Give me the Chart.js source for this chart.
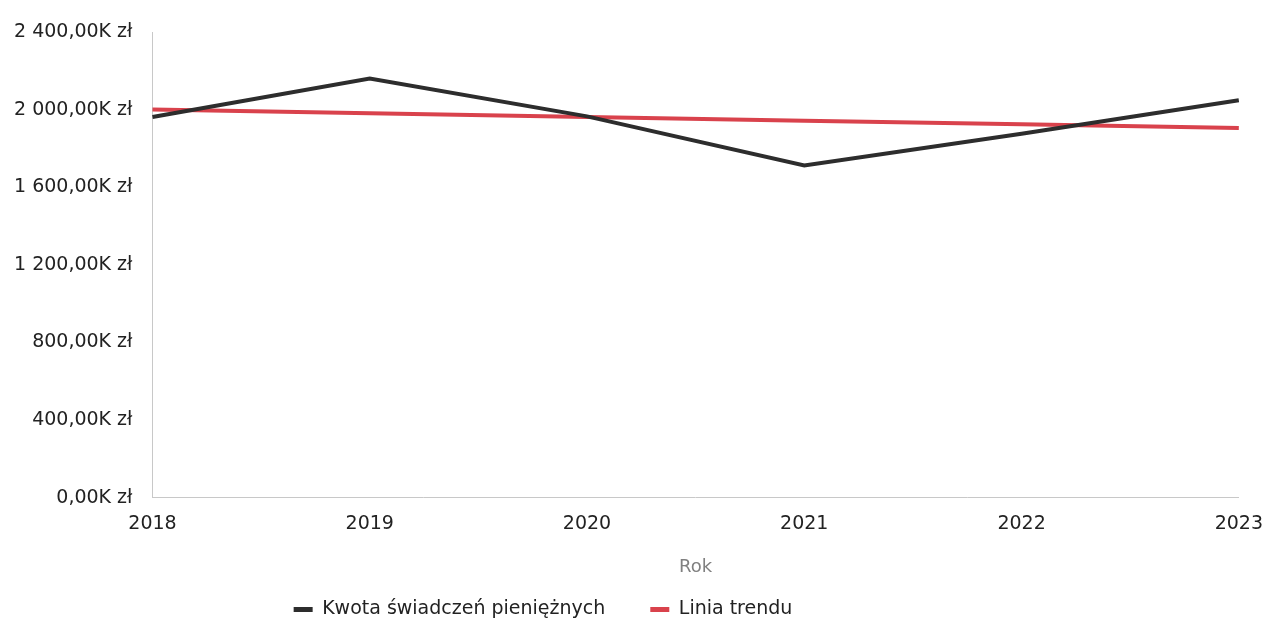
<!DOCTYPE html>
<html>
<head>
<meta charset="utf-8">
<script src="https://cdn.jsdelivr.net/npm/chart.js@4/dist/chart.umd.min.js"></script>
<style>
  html, body { margin: 0; padding: 0; background: #fff; }
  #wrap { width: 1270px; height: 625px; }
</style>
</head>
<body>
<div id="wrap"><canvas id="lineChart"></canvas></div>
<script>
const years = ['2018', '2019', '2020', '2021', '2022', '2023'];
const amounts = [1962, 2160, 1965, 1712, 1875, 2048];
const trend = [2000, 1981, 1962, 1943, 1924, 1905];
const yTicks = [0, 400, 800, 1200, 1600, 2000, 2400];

function formatZl(v) {
    const parts = v.toFixed(2).split('.');
    const whole = parts[0].replace(/\B(?=(\d{3})+(?!\d))/g, ' ');
    return whole + ',' + parts[1] + 'K zł';
}

// the legend in the original sits left of centre
const legendShift = {
    id: 'legendShift',
    afterLayout: function(chart) {
        chart.legend.left -= 87;
        chart.legend.right -= 87;
    }
};

Chart.defaults.font.family = "'DejaVu Sans', sans-serif";
Chart.defaults.color = '#222';

const ctx = document.getElementById('lineChart').getContext('2d');
const lineChart = new Chart(ctx, {
    type: 'line',
    data: {
        labels: years,
        datasets: [{
            label: 'Kwota świadczeń pieniężnych',
            data: amounts,
            borderColor: '#2d2d2d',
            backgroundColor: '#2d2d2d',
            borderWidth: 4,
            pointRadius: 0,
            tension: 0
        }, {
            label: 'Linia trendu',
            data: trend,
            borderColor: '#d9424c',
            backgroundColor: '#d9424c',
            borderWidth: 4,
            pointRadius: 0,
            tension: 0
        }]
    },
    options: {
        responsive: true,
        maintainAspectRatio: false,
        animation: false,
        layout: {
            padding: { top: 32, right: 12, left: 2, bottom: -4 }
        },
        scales: {
            x: {
                offset: false,
                grid: { display: false },
                border: { display: true, color: '#c8c8c8', dash: [2, 2] },
                ticks: { font: { size: 19 }, color: '#222', padding: 7, maxRotation: 0 },
                title: {
                    display: true,
                    text: 'Rok',
                    color: '#808080',
                    font: { size: 18 },
                    padding: { top: 14, bottom: -23 }
                }
            },
            y: {
                min: 0,
                max: 2400,
                afterBuildTicks: function(axis) {
                    axis.ticks = yTicks.map(v => ({ value: v }));
                },
                grid: { display: false },
                border: { display: true, color: '#c8c8c8', dash: [2, 2] },
                ticks: {
                    font: { size: 19 },
                    color: '#222',
                    padding: 12,
                    callback: function(value) { return formatZl(value); }
                }
            }
        },
        plugins: {
            legend: {
                position: 'bottom',
                labels: {
                    boxWidth: 19,
                    boxHeight: 5,
                    padding: 45,
                    font: { size: 19 },
                    color: '#222',
                    generateLabels: function(chart) {
                        const items = Chart.defaults.plugins.legend.labels.generateLabels(chart);
                        items.forEach(function(item) { item.lineWidth = 0; });
                        return items;
                    }
                }
            },
            tooltip: { enabled: false }
        }
    },
    plugins: [legendShift]
});
</script>
</body>
</html>
